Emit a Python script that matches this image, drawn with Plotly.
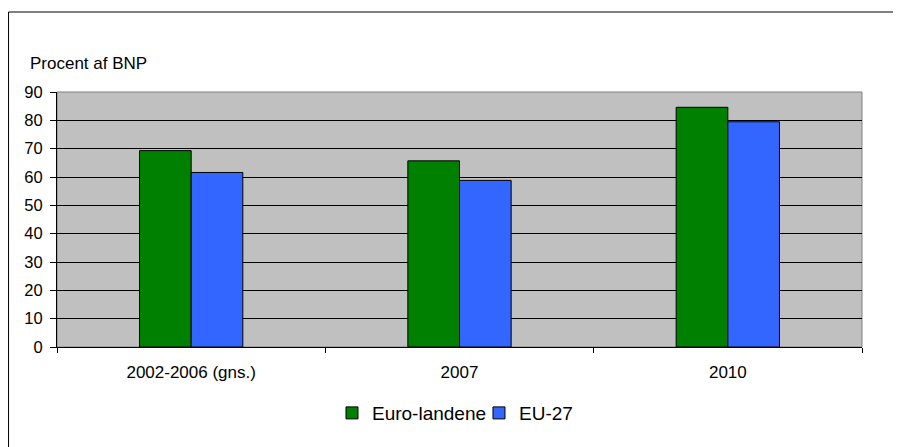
import plotly.graph_objects as go

categories = ["2002-2006 (gns.)", "2007", "2010"]
euro_landene = [69.3, 65.7, 84.6]
eu27 = [61.6, 58.8, 79.5]
y_ticks = [0, 10, 20, 30, 40, 50, 60, 70, 80, 90]

FONT = "Liberation Sans, Arial, sans-serif"

fig = go.Figure()
fig.add_trace(go.Bar(name="Euro-landene", x=categories, y=euro_landene, legend="legend",
                     marker=dict(color="#008000", line=dict(color="black", width=1))))
fig.add_trace(go.Bar(name="EU-27", x=categories, y=eu27, legend="legend2",
                     marker=dict(color="#3366FF", line=dict(color="black", width=1))))

leg_common = dict(orientation="h", xanchor="left", y=-0.259, yanchor="middle",
                  font=dict(size=19), bgcolor="rgba(0,0,0,0)", itemwidth=30)

fig.update_layout(
    width=893, height=439,
    margin=dict(l=49, r=39, t=84, b=100),
    paper_bgcolor="white",
    plot_bgcolor="#C0C0C0",
    barmode="group",
    bargap=0.615,
    bargroupgap=0,
    font=dict(family=FONT, size=16, color="black"),
    showlegend=True,
    legend=dict(x=0.3416, **leg_common),
    legend2=dict(x=0.5242, **leg_common),
    xaxis=dict(type="category", showline=True, linecolor="black", linewidth=1,
               ticks="outside", tickson="boundaries", ticklen=5, tickcolor="black",
               showgrid=False, tickfont=dict(size=17), ticklabelstandoff=10),
    yaxis=dict(range=[0, 90], tickvals=y_ticks, showline=True, linecolor="black", linewidth=1,
               ticks="outside", ticklen=6, tickcolor="black",
               showgrid=True, gridcolor="black", gridwidth=1, zeroline=False,
               tickfont=dict(size=16.5), ticklabelstandoff=4),
    shapes=[
        dict(type="rect", xref="paper", yref="paper", x0=0, x1=1, y0=0, y1=1,
             line=dict(color="#808080", width=1), fillcolor="rgba(0,0,0,0)", layer="below"),
        dict(type="rect", xref="paper", yref="paper", x0=-0.0602, x1=1.2, y0=-0.6, y1=1.3137,
             line=dict(color="black", width=1), fillcolor="rgba(0,0,0,0)"),
    ],
    annotations=[
        dict(text="Procent af BNP", xref="paper", yref="paper", x=-0.036, y=1.112,
             xanchor="left", yanchor="middle", showarrow=False, font=dict(size=17)),
    ],
)

fig.write_html("out.html")
